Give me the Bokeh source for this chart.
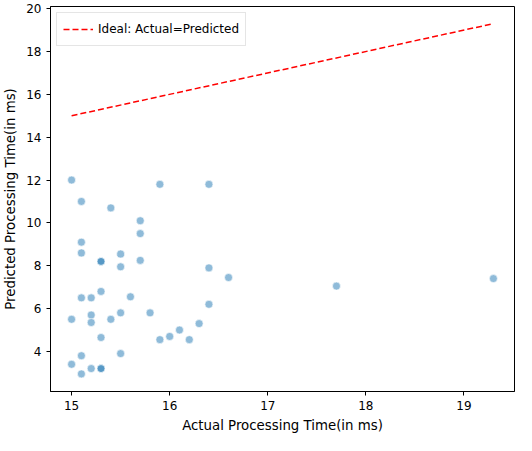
from bokeh.plotting import figure
from bokeh.models import Range1d, FixedTicker, Legend, LegendItem
from bokeh.embed import file_html
from bokeh.resources import INLINE

actual = [15.0, 15.0, 15.0, 15.1, 15.1, 15.1, 15.1, 15.1, 15.1, 15.2, 15.2, 15.2, 15.2,
          15.3, 15.3, 15.3, 15.3, 15.3, 15.3, 15.4, 15.4, 15.5, 15.5, 15.5, 15.5, 15.6,
          15.7, 15.7, 15.7, 15.8, 15.9, 15.9, 16.0, 16.1, 16.2, 16.3, 16.4, 16.4, 16.4,
          16.6, 17.7, 19.3]
predicted = [12.0, 5.5, 3.4, 11.0, 9.1, 8.6, 6.5, 3.8, 2.95, 6.5, 5.7, 5.35, 3.2,
             8.2, 8.2, 6.8, 4.65, 3.2, 3.2, 10.7, 5.5, 8.55, 7.95, 5.8, 3.9, 6.55,
             10.1, 9.5, 8.25, 5.8, 11.8, 4.55, 4.7, 5.0, 4.55, 5.3, 11.8, 7.9, 6.2,
             7.45, 7.05, 7.4]
ideal_x = [min(actual), max(actual)]

p = figure(width=516, height=435, output_backend="svg", toolbar_location=None, tools="",
           x_range=Range1d(14.785, 19.515), y_range=Range1d(2.13, 20.1),
           x_axis_label="Actual Processing Time(in ms)",
           y_axis_label="Predicted Processing Time(in ms)",
           min_border_left=10, min_border_right=2, min_border_top=6)
p.grid.visible = False
p.outline_line_color = "black"
p.outline_line_alpha = 1.0
p.outline_line_width = 1
p.xaxis.ticker = FixedTicker(ticks=[15, 16, 17, 18, 19])
p.yaxis.ticker = FixedTicker(ticks=list(range(4, 21, 2)))
for ax in (p.xaxis, p.yaxis):
    ax.axis_label_text_font_style = "normal"
    ax.axis_label_text_font = "DejaVu Sans"
    ax.axis_label_text_font_size = "10pt"
    ax.axis_label_text_color = "black"
    ax.major_label_text_font = "DejaVu Sans"
    ax.major_label_text_font_size = "9pt"
    ax.major_label_text_color = "black"
    ax.axis_line_color = "black"
    ax.major_tick_line_color = "black"
    ax.minor_tick_line_color = None
    ax.major_tick_out = 4
    ax.major_tick_in = 0

p.scatter(actual, predicted, size=8, fill_color="#1f77b4", fill_alpha=0.5,
          line_color="white", line_width=0.6)
ln = p.line(ideal_x, ideal_x, line_color="red", line_dash="6 3", line_width=1.5)

leg = Legend(items=[LegendItem(label="Ideal: Actual=Predicted", renderers=[ln])],
             location="top_left", label_text_font="DejaVu Sans", label_text_font_size="9pt",
             label_text_color="black",
             border_line_color="#cccccc", glyph_width=30, spacing=2, padding=6, margin=6)
p.add_layout(leg)

open("out.html", "w").write(file_html(p, INLINE))
